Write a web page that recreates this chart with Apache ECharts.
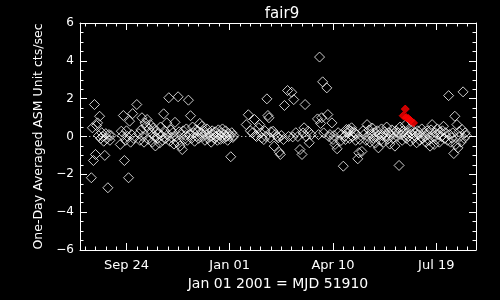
<!DOCTYPE html>
<html>
<head>
<meta charset="utf-8">
<script src="https://cdn.jsdelivr.net/npm/echarts@6/dist/echarts.min.js"></script>
<style>html,body{margin:0;padding:0;background:#000;}#c{width:500px;height:300px;}</style>
</head>
<body>
<div id="c"></div>
<script>
// Days relative to Jan 01 2001 (MJD 51910)
const days = [
  -134,-133,-132,-131,-130,-129,-128,-127,-126,-125,-124,-123,-122,-121,-120,-119,-118,-117,-116,-115,
  -106,-105,-104,-103,-102,-101,-100,-99,-98,-97,-96,-95,-94,-93,-90,-88,-87,-86,-85,-84,-83,-82,-81,-80,-79,-78,-77,
  -76,-75,-74,-73,-72,-71,-70,-69,-68,-67,-66,-65,-64,-63,-62,-61,-60,-59,-58,-57,-56,-55,-54,-53,-52,-51,-50,-49,-48,-47,-46,-45,-44,-43,-42,-41,-40,-39,-38,-37,-36,-35,-34,-33,-32,-31,-30,-29,-28,
  -27,-26,-25,-24,-23,-22,-21,-20,-19,-18,-17,-16,-15,-14,-13,-12,-11,-10,-9,-8,-7,-6,-5,-4,-3,-2,-1,0,1,2,3,4,
  16,18,20,22,24,25,26,28,29,30,31,33,34,35,36,37,38,39,40,42,43,44,46,47,48,49,50,52,53,56,57,
  60,61,62,64,66,68,70,71,72,73,74,76,77,79,85,86,87,88,89,90,91,94,95,96,97,99,100,101,102,104,105,107,108,110,111,112,113,114,115,116,117,118,119,120,121,122,123,124,125,126,
  128,129,130,132,133,134,135,136,137,138,139,140,141,142,143,144,145,146,147,148,149,150,151,152,153,154,155,156,157,158,159,160,161,162,163,164,165,166,167,168,169,170,171,172,173,174,175,176,177,178,179,180,181,182,183,184,
  186,187,188,189,190,191,192,193,194,195,196,197,198,199,200,201,202,203,204,205,206,207,208,209,211,212,213,214,215,216,217,218,219,220,221,222,223,224,225,226,227,228,229
];
const rates = [
  -2.18,0.46,-1.27,1.69,-0.95,0.58,0.72,0.05,1.07,-0.1,0.2,0.0,-0.25,-1.0,0.15,-0.1,-2.71,0.1,-0.2,0.05,
  -0.42,0.28,0.05,1.11,-1.27,-0.2,0.3,0.0,-2.18,0.81,-0.3,0.1,1.21,-0.1,1.69,0.15,-0.2,0.35,0.99,0.0,-0.3,0.72,0.54,0.9,-0.15,0.4,0.63,
  0.2,-0.3,0.45,0.0,-0.5,0.3,-0.1,0.15,-0.35,0.5,0.05,-0.2,1.2,0.3,-0.1,0.72,0.1,2.05,-0.25,0.35,-0.05,0.2,-0.4,0.75,0.0,-0.3,2.1,0.25,-0.5,0.1,-0.69,0.3,-0.15,0.05,0.4,-0.2,1.92,0.1,1.1,-0.1,0.5,0.2,-0.25,0.35,0.0,0.3,-0.1,0.69,0.2,
  0.54,0.0,0.3,-0.2,0.1,0.4,-0.1,0.2,0.0,-0.3,0.3,0.1,-0.1,0.25,0.0,-0.2,0.35,0.05,-0.15,0.2,0.4,-0.1,0.1,0.3,0.0,-0.2,0.15,0.0,-1.07,0.2,-0.05,0.05,
  0.63,1.15,0.3,0.19,0.9,0.05,0.0,0.46,0.63,0.19,-0.07,-0.16,0.3,0.0,1.99,1.11,0.99,-0.07,0.25,0.28,-0.51,0.1,0.0,-0.07,-0.83,-0.95,0.05,-0.16,1.64,2.43,0.0,
  2.34,-0.02,1.95,0.2,0.0,-0.69,-0.95,0.19,0.46,1.69,0.0,0.28,-0.33,0.1,0.93,0.1,4.2,0.69,0.99,2.89,0.19,2.57,1.16,0.0,0.1,0.72,-0.16,0.05,-0.42,-0.65,0.2,-0.25,0.1,-1.57,0.0,-0.16,0.37,0.2,0.37,-0.1,0.3,0.46,0.0,0.25,0.19,-0.2,0.1,-1.18,-0.86,-0.16,
  -0.79,0.3,0.1,-0.2,0.63,0.0,0.35,-0.3,0.15,0.45,-0.1,0.2,-0.35,0.0,0.3,-0.6,0.1,-0.2,0.4,0.05,-0.3,0.25,0.0,0.5,-0.15,0.2,-0.4,0.1,0.35,-0.1,0.15,-0.51,0.3,0.0,0.2,-1.53,0.5,0.1,-0.2,0.3,0.05,0.6,-0.1,0.2,0.0,0.4,-0.25,0.15,0.35,-0.1,0.2,0.0,-0.33,0.3,0.1,-0.2,
  0.4,-0.1,0.2,0.0,-0.3,0.3,0.1,-0.2,-0.51,0.35,0.63,0.0,-0.42,0.2,-0.15,0.4,0.1,-0.3,0.25,0.0,0.3,0.54,-0.1,0.2,-0.2,2.16,0.1,-0.3,-0.07,0.19,-0.9,1.07,-0.42,0.63,-0.6,0.25,0.0,-0.3,0.37,2.36,-0.1,0.19,0.05
];
// Highlighted (red) points
const redDays = [168, 170, 171, 173, 175, 178];
const redRates = [1.1, 1.45, 1.0, 0.95, 0.85, 0.72];
// Axis ticks
const tickDays = [-100, 0, 100, 200];
const tickLabels = ['Sep 24', 'Jan 01', 'Apr 10', 'Jul 19'];
const minorDays = [];
for (let d = -140; d <= 230; d += 10) minorDays.push(d);
const zeroSpan = [-136, 231];
const xMin = -145, xMax = 238.5;

const FONT = 'DejaVu Sans';
const white = '#ffffff';
const chart = echarts.init(document.getElementById('c'), null, {renderer: 'canvas'});

function tickAxis(pos, isMajor, withLabel) {
  return {
    type: 'value', min: xMin, max: xMax, position: pos, gridIndex: 0,
    axisLine: {show: isMajor, onZero: false, lineStyle: {color: white, width: 1}},
    axisTick: {show: true, inside: true, length: isMajor ? 7 : 3.5,
      customValues: isMajor ? tickDays : minorDays, lineStyle: {color: white, width: 1}},
    axisLabel: withLabel ? {show: true, customValues: tickDays, color: white, fontSize: 13, fontFamily: FONT, margin: 9,
      formatter: v => { const i = tickDays.indexOf(Math.round(v)); return i >= 0 ? tickLabels[i] : ''; }} : {show: false},
    splitLine: {show: false}
  };
}
const xMain = tickAxis('bottom', true, true);
xMain.name = 'Jan 01 2001 = MJD 51910';
xMain.nameLocation = 'middle';
xMain.nameGap = 25;
xMain.nameTextStyle = {color: white, fontSize: 14, fontFamily: FONT};

function yAx(pos, main) {
  const a = {
    type: 'value', min: -6, max: 6, interval: 2, position: pos,
    axisLine: {show: true, onZero: false, lineStyle: {color: white, width: 1}},
    axisTick: {show: true, inside: true, length: 7, lineStyle: {color: white, width: 1}},
    minorTick: {show: true, splitNumber: 4, length: 3.5, lineStyle: {color: white, width: 1}},
    axisLabel: main ? {show: true, color: white, fontSize: 12, fontFamily: FONT, margin: 6,
      formatter: v => (v < 0 ? '\u2212' + Math.abs(v) : String(v))} : {show: false},
    splitLine: {show: false}, minorSplitLine: {show: false}
  };
  if (main) {
    a.name = 'One-Day Averaged ASM Unit cts/sec';
    a.nameLocation = 'middle';
    a.nameGap = 30;
    a.nameRotate = 90;
    a.nameTextStyle = {color: white, fontSize: 12.5, fontFamily: FONT};
  }
  return a;
}

chart.setOption({
  animation: false,
  backgroundColor: '#000000',
  title: {text: 'fair9', left: 277, top: 2, textAlign: 'center',
    textStyle: {color: white, fontSize: 15, fontWeight: 'normal', fontFamily: FONT}},
  grid: {left: 80, right: 24, top: 23, bottom: 50, containLabel: false},
  xAxis: [xMain, tickAxis('bottom', false, false), tickAxis('top', true, false), tickAxis('top', false, false)],
  yAxis: [yAx('left', true), yAx('right', false)],
  series: [
    {type: 'line', xAxisIndex: 0, yAxisIndex: 0, data: zeroSpan.map(d => [d, 0]), symbol: 'none',
      lineStyle: {color: white, width: 1, type: [1, 3]}, z: 1, silent: true},
    {type: 'scatter', xAxisIndex: 0, yAxisIndex: 0, data: days.map((d, i) => [d, rates[i]]),
      symbol: 'diamond', symbolSize: 10, itemStyle: {color: 'rgba(0,0,0,0)', borderColor: white, borderWidth: 1}, z: 2},
    {type: 'scatter', xAxisIndex: 0, yAxisIndex: 0, data: redDays.map((d, i) => [d, redRates[i]]),
      symbol: 'diamond', symbolSize: 8, itemStyle: {color: '#ff0000', borderColor: '#ff0000', borderWidth: 1}, z: 3}
  ]
});
</script>
</body>
</html>
